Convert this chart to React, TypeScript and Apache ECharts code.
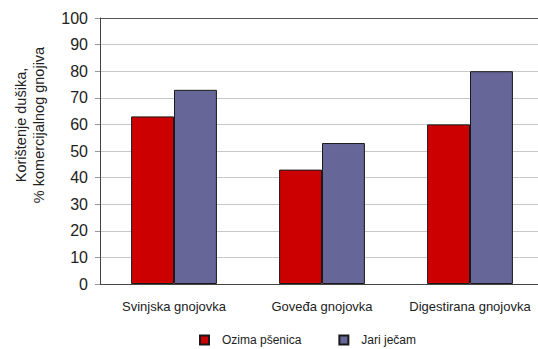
import React, { useEffect, useRef } from "react";
import * as echarts from "echarts";

const categories = ["Svinjska gnojovka", "Goveđa gnojovka", "Digestirana gnojovka"];
const seriesNames = ["Ozima pšenica", "Jari ječam"];
const ozimaPsenica = [63, 43, 60];
const jariJecam = [73, 53, 80];
const yTicks = [0, 10, 20, 30, 40, 50, 60, 70, 80, 90, 100];
const yTitleLines = ["Korištenje dušika,", "% komercijalnog gnojiva"];

export default function App() {
  const ref = useRef<HTMLDivElement>(null);
  useEffect(() => {
    if (!ref.current) return;
    const chart = echarts.init(ref.current, undefined, { renderer: "svg" });
    const font = "Liberation Sans, Arial, sans-serif";
    const splitColors = yTicks.map((v, i) => (i === yTicks.length - 1 ? "#555555" : "#c8c8c8"));
    chart.setOption({
      animation: false,
      backgroundColor: "#ffffff",
      textStyle: { fontFamily: font },
      grid: {
        left: 100,
        top: 18,
        bottom: 65,
        right: -6,
        containLabel: false,
        outerBoundsMode: "none",
      },
      graphic: yTitleLines.map((t, i) => ({
        type: "text",
        x: 21 + i * 18,
        y: 125,
        rotation: Math.PI / 2,
        style: {
          text: t,
          fontSize: 14.5,
          fontFamily: font,
          fill: "#222",
          textAlign: "center",
          textVerticalAlign: "middle",
        },
      })),
      legend: {
        data: seriesNames,
        left: 199,
        top: 334,
        padding: 0,
        itemWidth: 9,
        itemHeight: 9,
        itemGap: 37,
        icon: "rect",
        textStyle: { fontSize: 12, color: "#222", fontFamily: font, padding: [0, 0, 0, 8] },
      },
      xAxis: {
        type: "category",
        data: categories,
        axisLine: { lineStyle: { color: "#444", width: 1 } },
        axisTick: { show: false },
        axisLabel: { fontSize: 13, color: "#222", margin: 16, interval: 0, fontFamily: font },
      },
      yAxis: {
        type: "value",
        min: 0,
        max: 100,
        interval: 10,
        axisLine: { show: true, lineStyle: { color: "#444", width: 1 } },
        axisTick: { show: true, length: 5, inside: false, lineStyle: { color: "#999" } },
        axisLabel: { fontSize: 16, color: "#222", margin: 12, fontFamily: font },
        splitLine: { show: true, lineStyle: { color: splitColors, width: 1 } },
      },
      series: [
        {
          name: seriesNames[0],
          type: "bar",
          data: ozimaPsenica,
          barGap: "0%",
          barCategoryGap: "42%",
          itemStyle: { color: "#cc0000", borderColor: "#1a1a1a", borderWidth: 1 },
        },
        {
          name: seriesNames[1],
          type: "bar",
          data: jariJecam,
          barGap: "0%",
          barCategoryGap: "42%",
          itemStyle: { color: "#666699", borderColor: "#1a1a1a", borderWidth: 1 },
        },
      ],
    });
    return () => chart.dispose();
  }, []);
  return (
    <div
      ref={ref}
      style={{ position: "absolute", left: 0, top: 0, width: 538, height: 349 }}
    />
  );
}
